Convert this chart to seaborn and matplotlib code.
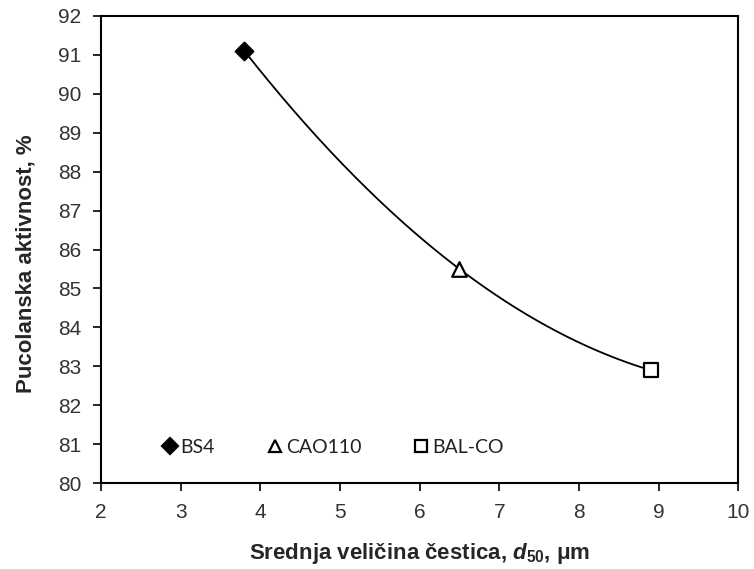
import numpy as np
import pandas as pd
import matplotlib
matplotlib.use("Agg")
import matplotlib.pyplot as plt
import seaborn as sns

# values
samples = ["BS4", "CAO110", "BAL-CO"]
d50 = [3.8, 6.5, 8.9]
activity = [91.1, 85.5, 82.9]
x_ticks = [2, 3, 4, 5, 6, 7, 8, 9, 10]
y_ticks = [80, 81, 82, 83, 84, 85, 86, 87, 88, 89, 90, 91, 92]

sns.set_theme(style="white")
plt.rcParams["font.family"] = ["Liberation Sans", "DejaVu Sans"]
plt.rcParams["mathtext.fontset"] = "custom"
plt.rcParams["mathtext.rm"] = "Liberation Sans:bold"
plt.rcParams["mathtext.it"] = "Liberation Sans:bold:italic"
plt.rcParams["mathtext.bf"] = "Liberation Sans:bold"

df = pd.DataFrame({"sample": samples, "d50": d50, "activity": activity})

# 2nd order trend line through the points (like a spreadsheet trendline)
coef = np.polyfit(df["d50"], df["activity"], 2)
xs = np.linspace(df["d50"].min(), df["d50"].max(), 200)
trend = pd.DataFrame({"d50": xs, "activity": np.polyval(coef, xs)})

fig, ax = plt.subplots(figsize=(7.54, 5.69), dpi=100)
fig.subplots_adjust(left=0.134, right=0.979, top=0.972, bottom=0.151)

sns.lineplot(data=trend, x="d50", y="activity", color="black", linewidth=1.3, ax=ax)

styles = {"BS4": dict(marker="D", facecolor="black", s=80),
          "CAO110": dict(marker="^", facecolor="white", s=110),
          "BAL-CO": dict(marker="s", facecolor="white", s=100)}
handles = []
for name in samples:
    st = styles[name]
    sub = df[df["sample"] == name]
    sns.scatterplot(data=sub, x="d50", y="activity", marker=st["marker"], s=st["s"],
                    color=st["facecolor"], edgecolor="black", linewidth=1.6, ax=ax, zorder=3)
    handles.append(plt.Line2D([], [], linestyle="none", marker=st["marker"],
                              markersize=9 if st["marker"] != "D" else 8,
                              markerfacecolor=st["facecolor"], markeredgecolor="black",
                              markeredgewidth=1.6, label=name))

leg = ax.legend(handles=handles, loc="lower left", bbox_to_anchor=(0.065, 0.02), ncol=3,
                frameon=False, handletextpad=0.05, columnspacing=2.6,
                handlelength=1.0, prop={"family": ["Lato", "DejaVu Sans"], "size": 14})
for t in leg.get_texts():
    t.set_color("#222222")

ax.set_xlim(2, 10)
ax.set_ylim(80, 92)
ax.set_xticks(x_ticks)
ax.set_yticks(y_ticks)
ax.tick_params(axis="both", which="major", direction="out", length=6, width=1.2,
               labelsize=15, colors="black", bottom=True, left=True, top=False, right=False)
ax.tick_params(axis="x", pad=8)
ax.tick_params(axis="y", pad=8)
for lbl in ax.get_xticklabels() + ax.get_yticklabels():
    lbl.set_color("#333333")
for sp in ax.spines.values():
    sp.set_color("black")
    sp.set_linewidth(1.5)

ax.set_xlabel(r"Srednja veličina čestica, $d_{50}$, μm", fontsize=16, fontweight="bold",
              labelpad=14)
ax.set_ylabel("Pucolanska aktivnost, %", fontsize=16, fontweight="bold")
ax.yaxis.set_label_coords(-0.102, 0.47)

fig.savefig("out.png", dpi=100)
